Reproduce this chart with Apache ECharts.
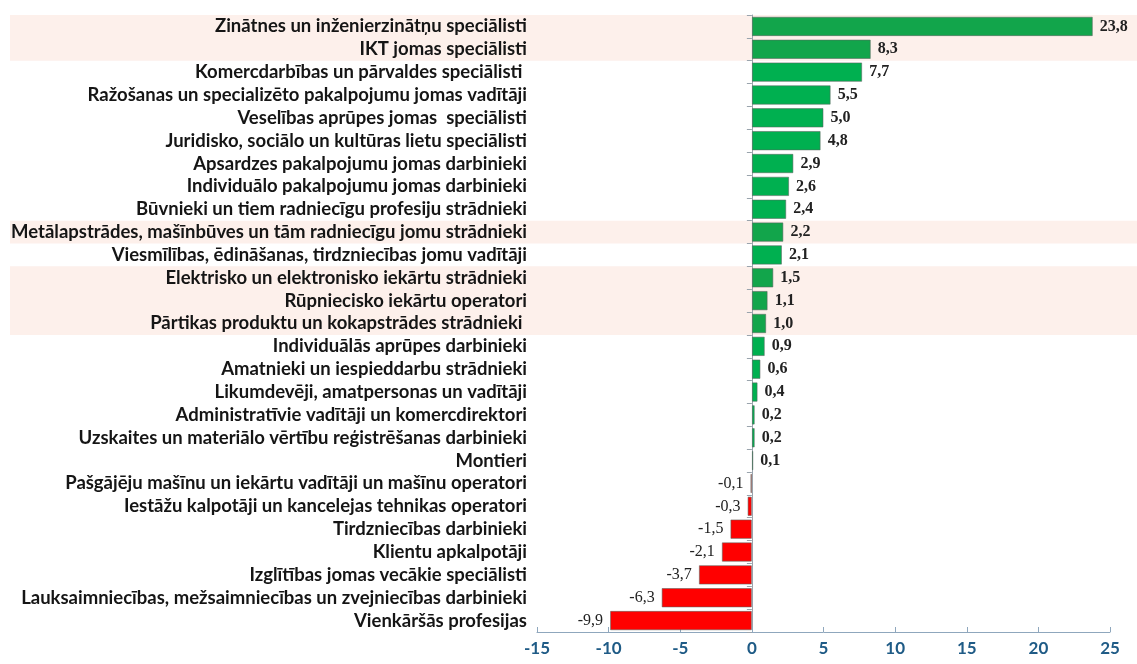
<!DOCTYPE html>
<html>
<head>
<meta charset="utf-8">
<script src="https://cdn.jsdelivr.net/npm/echarts@6/dist/echarts.min.js"></script>
<style>
  html, body { margin: 0; padding: 0; background: #fff; }
  #chart { width: 1137px; height: 664px; }
</style>
</head>
<body>
<div id="chart"></div>
<script>
// Profesiju grupas (no augšas uz leju)
const categories = [
  'Zinātnes un inženierzinātņu speciālisti',
  'IKT jomas speciālisti',
  'Komercdarbības un pārvaldes speciālisti ',
  'Ražošanas un specializēto pakalpojumu jomas vadītāji',
  'Veselības aprūpes jomas  speciālisti',
  'Juridisko, sociālo un kultūras lietu speciālisti',
  'Apsardzes pakalpojumu jomas darbinieki',
  'Individuālo pakalpojumu jomas darbinieki',
  'Būvnieki un tiem radniecīgu profesiju strādnieki',
  'Metālapstrādes, mašīnbūves un tām radniecīgu jomu strādnieki',
  'Viesmīlības, ēdināšanas, tirdzniecības jomu vadītāji',
  'Elektrisko un elektronisko iekārtu strādnieki',
  'Rūpniecisko iekārtu operatori',
  'Pārtikas produktu un kokapstrādes strādnieki ',
  'Individuālās aprūpes darbinieki',
  'Amatnieki un iespieddarbu strādnieki',
  'Likumdevēji, amatpersonas un vadītāji',
  'Administratīvie vadītāji un komercdirektori',
  'Uzskaites un materiālo vērtību reģistrēšanas darbinieki',
  'Montieri',
  'Pašgājēju mašīnu un iekārtu vadītāji un mašīnu operatori',
  'Iestāžu kalpotāji un kancelejas tehnikas operatori',
  'Tirdzniecības darbinieki',
  'Klientu apkalpotāji',
  'Izglītības jomas vecākie speciālisti',
  'Lauksaimniecības, mežsaimniecības un zvejniecības darbinieki',
  'Vienkāršās profesijas'
]

const values = [
  23.8, 8.3, 7.7, 5.5, 5.0, 4.8, 2.9, 2.6, 2.4, 2.2, 2.1, 1.5, 1.1, 1.0,
  0.9, 0.6, 0.4, 0.2, 0.2, 0.1, -0.1, -0.3, -1.5, -2.1, -3.7, -6.3, -9.9
]

// Iekrāsotās rindas (gaiši rozā fons)
const highlighted = [
  true, true, false, false, false, false, false, false, false, true, false, true, true, true,
  false, false, false, false, false, false, false, false, false, false, false, false, false
]

const xTicks = { min: -15, max: 25, interval: 5 }

const chart = echarts.init(document.getElementById('chart'))

const fmt = (v) => v.toFixed(1).replace('.', ',')

const option = {
  animation: false,
  grid: [
    { left: 537, right: 27, top: 15, bottom: 32 },
    { left: 10, right: 0, top: 15, bottom: 32 }
  ],
  xAxis: [
    {
      type: 'value',
      gridIndex: 0,
      min: xTicks.min,
      max: xTicks.max,
      interval: xTicks.interval,
      axisLine: { show: true, onZero: false, lineStyle: { color: '#8fa7bd', width: 1 } },
      axisTick: { show: true, inside: true, length: 5, lineStyle: { color: '#8fa7bd' } },
      splitLine: { show: false },
      axisLabel: {
        color: '#1f5b86',
        fontFamily: 'Lato',
        fontWeight: 'bold',
        fontSize: 17,
        margin: 8
      }
    },
    { type: 'value', gridIndex: 1, min: 0, max: 1, show: false }
  ],
  yAxis: [
    {
      type: 'category',
      gridIndex: 0,
      data: categories,
      inverse: true,
      position: 'left',
      axisLine: { show: false, onZero: false },
      axisTick: { show: false },
      axisLabel: {
        interval: 0,
        color: '#151515',
        fontFamily: 'Lato',
        fontWeight: 'bold',
        fontSize: 18.5,
        margin: 10
      }
    },
    {
      type: 'category',
      gridIndex: 0,
      data: categories,
      inverse: true,
      position: 'left',
      axisLine: { show: true, onZero: true, lineStyle: { color: '#9aa4ad' } },
      axisTick: { show: true, interval: 0, length: 5, lineStyle: { color: '#9aa4ad' } },
      axisLabel: { show: false }
    },
    {
      type: 'category',
      gridIndex: 1,
      data: categories,
      inverse: true,
      z: -1,
      axisLine: { show: false },
      axisTick: { show: false },
      axisLabel: { show: false },
      splitArea: {
        show: true,
        interval: 0,
        areaStyle: { color: highlighted.map((h) => (h ? '#fdf0eb' : 'rgba(255,255,255,0)')) }
      }
    }
  ],
  series: [
    {
      type: 'bar',
      xAxisIndex: 0,
      yAxisIndex: 0,
      // negatīvajām vērtībām etiķete pa kreisi
      data: values.map((v) =>
        v < 0 ? { value: v, label: { position: 'left', fontWeight: 'normal' } } : v
      ),
      barCategoryGap: '15%',
      itemStyle: {
        color: (p) => (p.value >= 0 ? (highlighted[p.dataIndex] ? '#12a54b' : '#00b050') : '#ff0000'),
        borderColor: 'rgba(90,100,95,0.55)',
        borderWidth: 1
      },
      label: {
        show: true,
        position: 'right',
        distance: 7,
        color: '#222',
        fontFamily: 'Liberation Serif',
        fontWeight: 'bold',
        fontSize: 16,
        formatter: (p) => fmt(p.value)
      }
    }
  ]
}

chart.setOption(option)
</script>
</body>
</html>
